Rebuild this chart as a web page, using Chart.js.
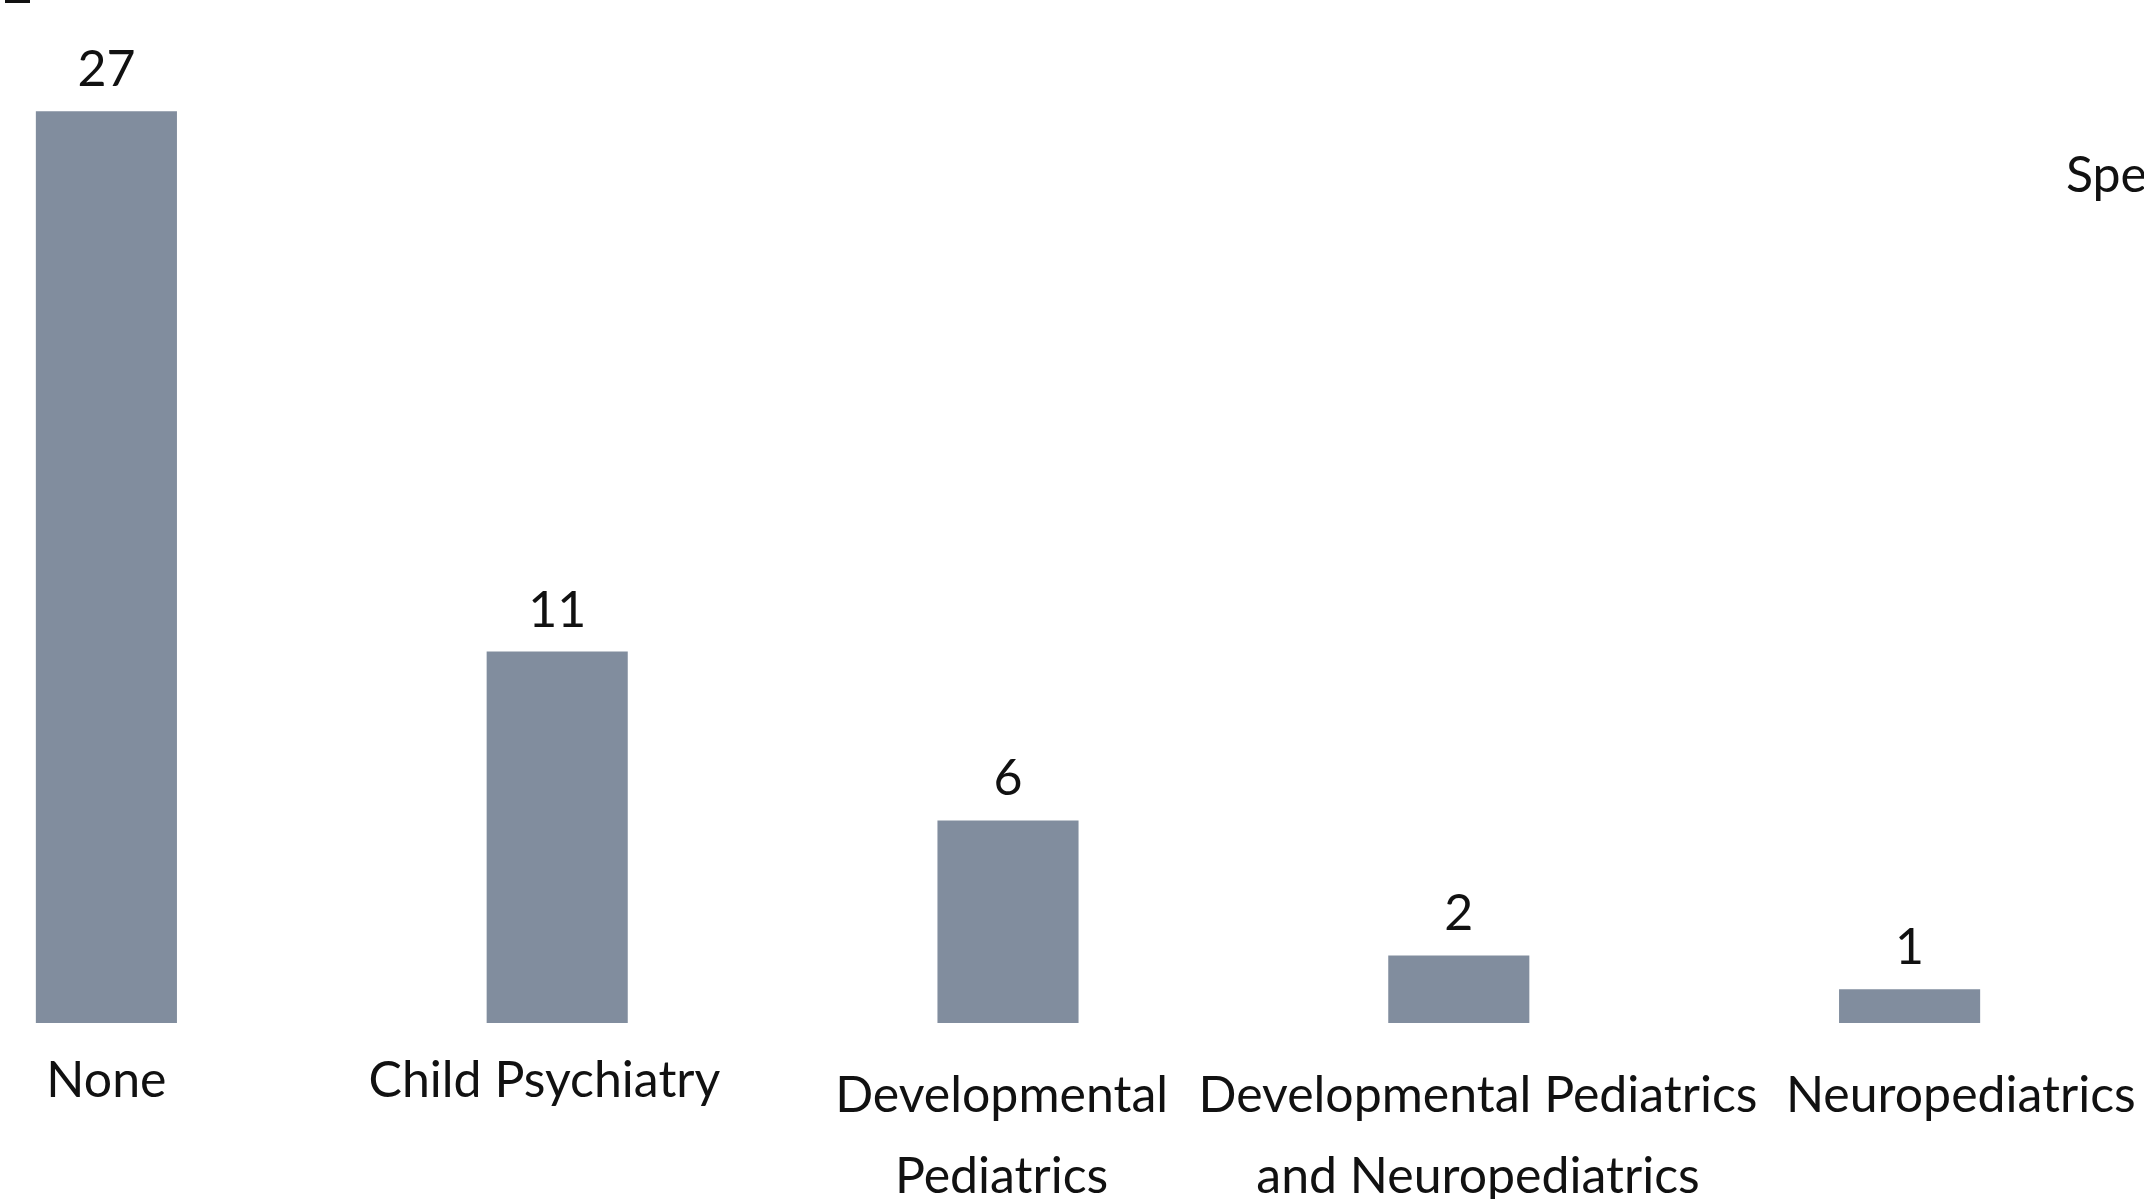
<!DOCTYPE html>
<html>
<head>
<meta charset="utf-8">
<script src="https://cdn.jsdelivr.net/npm/chart.js@4"></script>
<style>
  html, body { margin: 0; padding: 0; width: 2144px; height: 1199px; overflow: hidden; background: #ffffff; }
  #wrap { position: absolute; left: -119px; top: 0; width: 2254px; height: 1249px; }
  #side { position: absolute; left: 2066px; top: 143px; font-family: Lato, sans-serif; font-size: 50px; color: #111; white-space: nowrap; }
  #mark { position: absolute; left: 5px; top: 0; width: 25px; height: 3px; background: #111; }
</style>
</head>
<body>
<div id="mark"></div>
<div id="wrap"><canvas id="c"></canvas></div>
<div id="side">Specialty</div>
<script>
const categories = [
  ["None"],
  ["Child Psychiatry  "],
  ["Developmental ", "Pediatrics "],
  ["   Developmental Pediatrics", "   and Neuropediatrics"],
  ["        Neuropediatrics"]
];
const counts = [27, 11, 6, 2, 1];
const yTicks = { min: 0, max: 30 };

const valueLabels = {
  id: 'valueLabels',
  afterDatasetsDraw(chart) {
    const ctx = chart.ctx;
    const meta = chart.getDatasetMeta(0);
    ctx.save();
    ctx.font = '50px Lato, sans-serif';
    ctx.fillStyle = '#111';
    ctx.textAlign = 'center';
    ctx.textBaseline = 'alphabetic';
    meta.data.forEach((bar, i) => {
      ctx.fillText(String(counts[i]), bar.x, bar.y - 25);
    });
    ctx.restore();
  }
};

new Chart(document.getElementById('c'), {
  type: 'bar',
  data: {
    labels: categories,
    datasets: [{
      data: counts,
      backgroundColor: '#818d9e',
      borderWidth: 0,
      categoryPercentage: 1.0,
      barPercentage: 0.313
    }]
  },
  options: {
    responsive: true,
    maintainAspectRatio: false,
    animation: false,
    layout: { padding: { top: 10, left: 0, right: 0, bottom: 0 } },
    plugins: { legend: { display: false }, tooltip: { enabled: false } },
    scales: {
      x: {
        grid: { display: false, drawTicks: false },
        border: { display: false },
        afterFit(scale) { scale.paddingLeft = 0; scale.paddingRight = 0; },
        ticks: {
          autoSkip: false,
          maxRotation: 0,
          minRotation: 0,
          padding: 32,
          color: '#111',
          font: (ctx) => ({
            family: 'Lato, sans-serif',
            size: 50,
            lineHeight: (ctx.index <= 1) ? 1.02 : 1.62
          })
        }
      },
      y: {
        display: false,
        min: yTicks.min,
        max: yTicks.max
      }
    }
  },
  plugins: [valueLabels]
});
</script>
</body>
</html>
